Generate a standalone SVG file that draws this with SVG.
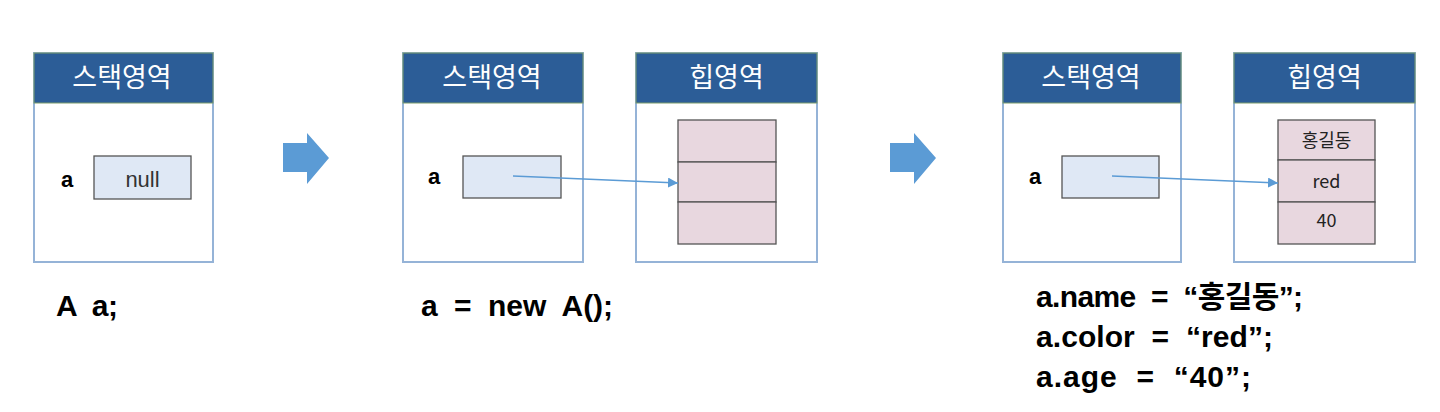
<svg xmlns="http://www.w3.org/2000/svg" width="1440" height="412" viewBox="0 0 1440 412">
<style>
.frame{fill:#fff;stroke:#95b3d7;stroke-width:2}
.hdr{fill:#2c5d97;stroke:#7d9d6a;stroke-width:1}
.htxt{fill:#fff;font-family:"Noto Sans CJK KR","Noto Sans",sans-serif;font-size:27px;text-anchor:middle}
.var{fill:#dfe8f5;stroke:#555;stroke-width:1.3}
.cell{fill:#e8d7df;stroke:#555;stroke-width:1.3}
.ctxt{fill:#222;font-family:"Noto Sans CJK KR","Noto Sans",sans-serif;font-size:18px;text-anchor:middle}
.lbl{fill:#000;font-family:"Liberation Sans",Arial,sans-serif;font-size:22px;font-weight:bold}
.code{fill:#000;font-family:"Liberation Sans","Noto Sans CJK KR",sans-serif;font-size:30px;font-weight:bold}
.big{fill:#5b9bd5}
.conn{stroke:#5b9bd5;stroke-width:1.3;fill:none}
</style>
<defs>
<marker id="ah" viewBox="0 0 10 10" refX="10" refY="5" markerWidth="10" markerHeight="10" markerUnits="userSpaceOnUse" orient="auto">
<path d="M0,0 L10,5 L0,10 Z" fill="#5b9bd5"/>
</marker>
</defs>

<g id="stack1">
<rect class="frame" x="34" y="53" width="179" height="209"/>
<rect class="hdr" x="34" y="53" width="179" height="50"/>
<text class="htxt" x="122" y="87">스택영역</text>
<text class="lbl" x="61" y="187">a</text>
<rect class="var" x="94" y="156" width="97" height="43"/>
<text x="142.5" y="187" fill="#333" font-family="Liberation Sans,Arial,sans-serif" font-size="22" text-anchor="middle">null</text>
</g>

<g id="step1">
<path class="big" d="M283,143 L307,143 L307,133 L329,158 L307,184 L307,172 L283,172 Z"/>
</g>

<g id="stack2">
<rect class="frame" x="403" y="53" width="180" height="209"/>
<rect class="hdr" x="403" y="53" width="180" height="50"/>
<text class="htxt" x="492" y="87">스택영역</text>
<text class="lbl" x="428" y="184">a</text>
<rect class="var" x="463" y="156" width="98" height="42"/>
</g>

<g id="heap2">
<rect class="frame" x="636" y="53" width="181" height="209"/>
<rect class="hdr" x="636" y="53" width="181" height="50"/>
<text class="htxt" x="726.5" y="87">힙영역</text>
<rect class="cell" x="678" y="120" width="98" height="42"/>
<rect class="cell" x="678" y="162" width="98" height="40"/>
<rect class="cell" x="678" y="202" width="98" height="42"/>
</g>

<g id="step2">
<path class="big" d="M890,143 L914,143 L914,133 L936,158 L914,184 L914,172 L890,172 Z"/>
</g>

<g id="stack3">
<rect class="frame" x="1003" y="53" width="178" height="209"/>
<rect class="hdr" x="1003" y="53" width="178" height="50"/>
<text class="htxt" x="1091" y="87">스택영역</text>
<text class="lbl" x="1029" y="184">a</text>
<rect class="var" x="1062" y="156" width="97" height="42"/>
</g>

<g id="heap3">
<rect class="frame" x="1234" y="53" width="181" height="209"/>
<rect class="hdr" x="1234" y="53" width="181" height="50"/>
<text class="htxt" x="1324.5" y="87">힙영역</text>
<rect class="cell" x="1278" y="120" width="97" height="40"/>
<rect class="cell" x="1278" y="160" width="97" height="42"/>
<rect class="cell" x="1278" y="202" width="97" height="42"/>
<text class="ctxt" x="1326.5" y="147">홍길동</text>
<text class="ctxt" x="1326.5" y="188">red</text>
<text class="ctxt" x="1326.5" y="227">40</text>
</g>

<g id="connectors">
<path class="conn" d="M513,176 L678,183" marker-end="url(#ah)"/>
<path class="conn" d="M1112,176 L1278,183" marker-end="url(#ah)"/>
</g>

<g id="code">
<text class="code" x="56" y="316" textLength="62" lengthAdjust="spacing" xml:space="preserve">A  a;</text>
<text class="code" x="421" y="316" textLength="192" lengthAdjust="spacing" xml:space="preserve">a  =  new  A();</text>
<text class="code" x="1036" y="307" textLength="267" lengthAdjust="spacing" xml:space="preserve">a.name  =  “홍길동”;</text>
<text class="code" x="1036" y="347" textLength="237" lengthAdjust="spacing" xml:space="preserve">a.color  =  “red”;</text>
<text class="code" x="1036" y="387" textLength="215" lengthAdjust="spacing" xml:space="preserve">a.age  =  “40”;</text>
</g>
</svg>
